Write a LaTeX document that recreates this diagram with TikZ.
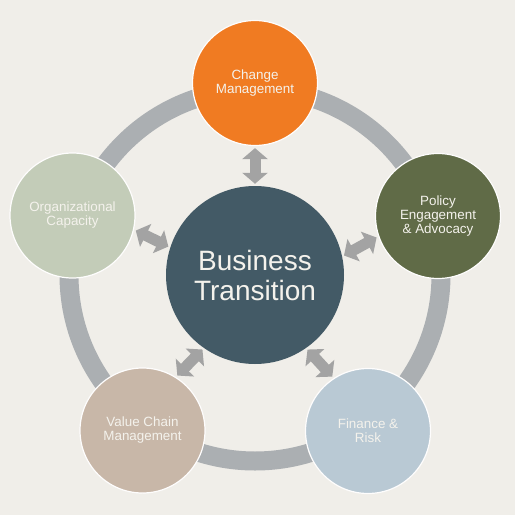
\documentclass[tikz,border=0pt]{standalone}
\usepackage{fontspec}
\setmainfont{Liberation Sans}
\usetikzlibrary{arrows.meta}
\definecolor{bg}{HTML}{F0EEE9}
\definecolor{ringc}{HTML}{ABAFB2}
\definecolor{arrc}{HTML}{A3A3A3}
\definecolor{cchange}{HTML}{F07B22}
\definecolor{cpolicy}{HTML}{606B47}
\definecolor{corg}{HTML}{C3CCB8}
\definecolor{cvalue}{HTML}{C8B7A8}
\definecolor{cfin}{HTML}{B9C9D4}
\definecolor{ccenter}{HTML}{435A66}
\definecolor{txt}{HTML}{F4F2EC}
\tikzset{
  outer/.style={circle, minimum size=125pt, inner sep=0pt, draw=white!90!bg, line width=1.2pt,
    text=txt, align=center, font=\fontsize{13.4}{14}\selectfont},
  hub/.style={circle, minimum size=178pt, inner sep=0pt, fill=ccenter,
    text=txt, align=center, font=\fontsize{28}{30}\selectfont},
  dblarrow/.style={draw=arrc, line width=11pt,
    {Triangle[width=25pt,length=11pt]}-{Triangle[width=25pt,length=11pt]},
    shorten <=2pt, shorten >=2pt}
}
\begin{document}
\begin{tikzpicture}[x=1pt,y=-1pt]
\useasboundingbox (0,0) rectangle (515,515);
\fill[bg] (0,0) rectangle (515,515);
\coordinate (c) at (255,275);
\draw[ringc, line width=19pt] (c) circle[radius=186];
\node[outer, fill=cchange] (change) at (255,83) {Change\\Management};
\node[outer, fill=cpolicy] (policy) at (438,216) {Policy\\Engagement\\\& Advocacy};
\node[outer, fill=corg] (org) at (72.5,215.5) {Organizational\\Capacity};
\node[outer, fill=cvalue] (value) at (142.5,430.5) {Value Chain\\Management};
\node[outer, fill=cfin] (fin) at (368,431) {Finance \&\\Risk};
\node[hub] (hub) at (255,275) {Business\\Transition};
\draw[dblarrow] (change.south) -- (hub.north);
\draw[dblarrow] (org.-13) -- (hub.162);
\draw[dblarrow] (policy.-161) -- (hub.12);
\draw[dblarrow] (value.58) -- (hub.-125);
\draw[dblarrow] (fin.123) -- (hub.-55);
\end{tikzpicture}
\end{document}
